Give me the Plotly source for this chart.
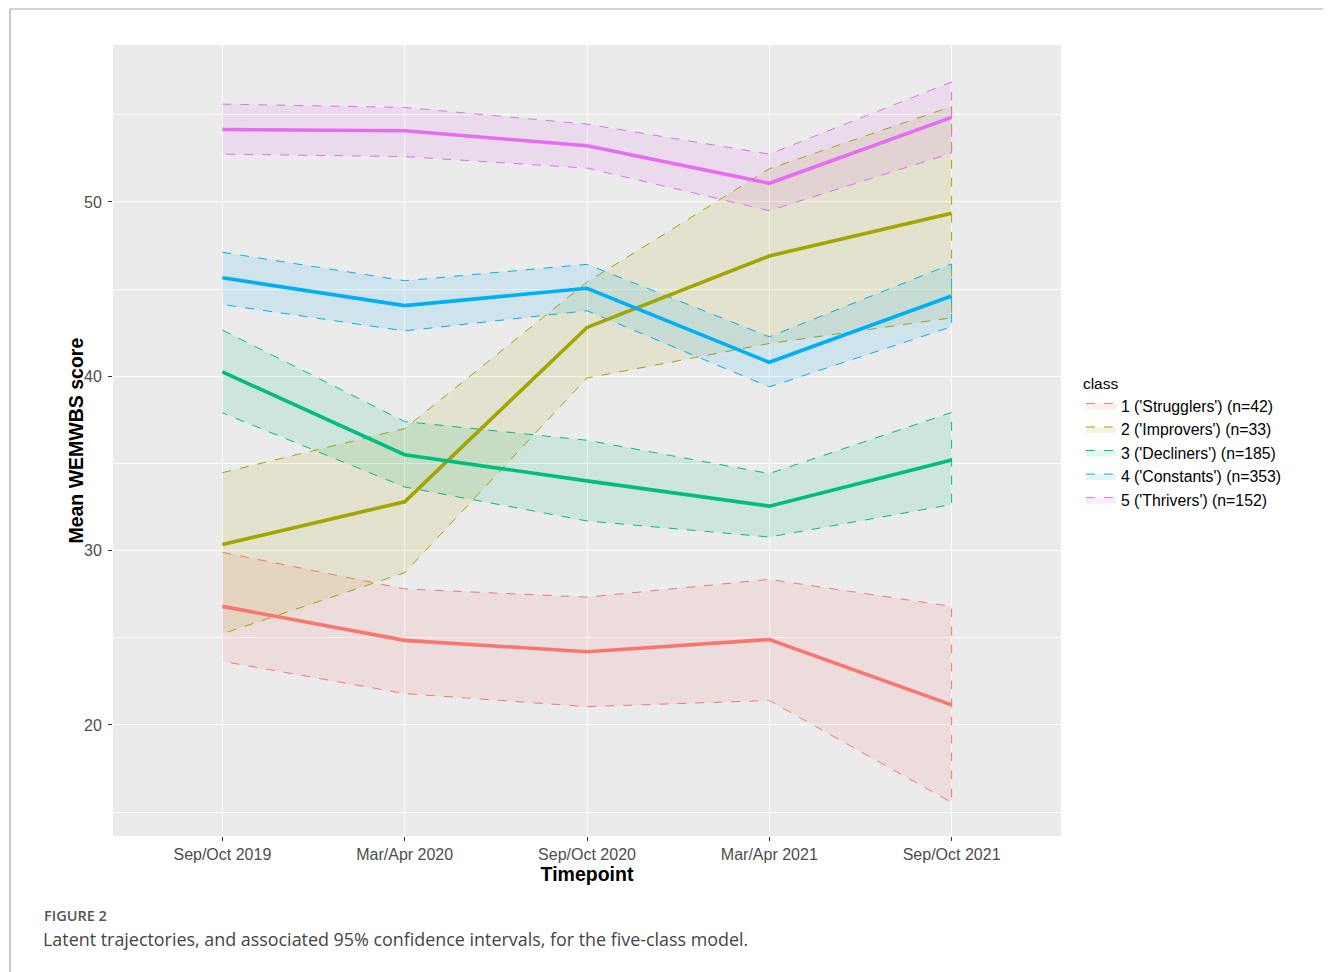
import plotly.graph_objects as go

# timepoints of the survey waves
timepoints = ["Sep/Oct 2019", "Mar/Apr 2020", "Sep/Oct 2020", "Mar/Apr 2021", "Sep/Oct 2021"]

class_labels = [
    "1 ('Strugglers') (n=42)",
    "2 ('Improvers') (n=33)",
    "3 ('Decliners') (n=185)",
    "4 ('Constants') (n=353)",
    "5 ('Thrivers') (n=152)",
]
class_colors = ["#F8766D", "#A3A500", "#00BF7D", "#00B0F6", "#E76BF3"]

# mean WEMWBS score per class
strugglers_mean = [26.8, 24.85, 24.2, 24.9, 21.15]
improvers_mean = [30.35, 32.8, 42.8, 46.9, 49.35]
decliners_mean = [40.25, 35.5, 34.0, 32.55, 35.2]
constants_mean = [45.65, 44.05, 45.05, 40.8, 44.6]
thrivers_mean = [54.15, 54.08, 53.22, 51.07, 54.85]

# 95% confidence bounds
strugglers_lo = [23.65, 21.8, 21.05, 21.4, 15.55]
strugglers_hi = [29.9, 27.8, 27.33, 28.35, 26.8]
improvers_lo = [25.23, 28.73, 39.9, 41.88, 43.35]
improvers_hi = [34.47, 37.0, 45.4, 51.9, 55.47]
decliners_lo = [37.9, 33.65, 31.7, 30.78, 32.64]
decliners_hi = [42.65, 37.4, 36.33, 34.42, 37.92]
constants_lo = [44.12, 42.6, 43.76, 39.39, 42.84]
constants_hi = [47.11, 45.48, 46.42, 42.26, 46.44]
thrivers_lo = [52.74, 52.6, 51.94, 49.5, 52.8]
thrivers_hi = [55.61, 55.42, 54.46, 52.74, 56.88]

means = [strugglers_mean, improvers_mean, decliners_mean, constants_mean, thrivers_mean]
lows = [strugglers_lo, improvers_lo, decliners_lo, constants_lo, thrivers_lo]
highs = [strugglers_hi, improvers_hi, decliners_hi, constants_hi, thrivers_hi]


def rgba(hex_col, alpha):
    h = hex_col.lstrip("#")
    r, g, b = int(h[0:2], 16), int(h[2:4], 16), int(h[4:6], 16)
    return f"rgba({r},{g},{b},{alpha})"


fig = go.Figure()

# ribbons first (closed polygon with a dashed outline, like geom_ribbon)
for label, col, lo, hi in zip(class_labels, class_colors, lows, highs):
    fig.add_trace(go.Scatter(
        x=timepoints + timepoints[::-1],
        y=hi + lo[::-1],
        fill="toself",
        fillcolor=rgba(col, 0.12),
        line=dict(color=col, width=1, dash="dash"),
        mode="lines",
        name=label,
        legendgroup=label,
        hoverinfo="skip",
    ))

# mean trajectories on top
for label, col, m in zip(class_labels, class_colors, means):
    fig.add_trace(go.Scatter(
        x=timepoints,
        y=m,
        mode="lines",
        line=dict(color=col, width=3.6),
        name=label,
        legendgroup=label,
        showlegend=False,
    ))

axis_font = dict(family="Liberation Sans, Arial", size=16, color="#4d4d4d")

fig.update_xaxes(
    type="category",
    categoryorder="array",
    categoryarray=timepoints,
    range=[-0.6, 4.6],
    showgrid=True,
    gridcolor="white",
    gridwidth=1.3,
    zeroline=False,
    ticks="outside",
    ticklen=4,
    tickcolor="#333333",
    tickfont=axis_font,
    title=dict(text="<b>Timepoint</b>", standoff=3,
               font=dict(family="Liberation Sans, Arial", size=19.5, color="black")),
)
fig.update_yaxes(
    range=[13.63, 59.0],
    tickvals=[20, 30, 40, 50],
    showgrid=True,
    gridcolor="white",
    gridwidth=1.3,
    zeroline=False,
    ticks="outside",
    ticklen=4,
    tickcolor="#333333",
    tickfont=axis_font,
    ticklabelstandoff=3,
    minor=dict(tickvals=[15, 25, 35, 45, 55], showgrid=True, gridcolor="white", gridwidth=0.6, ticks=""),
)

# y title as an annotation so it can sit closer to the tick labels
fig.add_annotation(text="<b>Mean WEMWBS score</b>", xref="paper", yref="paper",
                   x=-0.04, y=0.5, xanchor="center", yanchor="middle", textangle=-90,
                   showarrow=False,
                   font=dict(family="Liberation Sans, Arial", size=19.5, color="black"))

# outer frame of the journal figure
fig.add_shape(type="line", xref="paper", yref="paper",
              x0=-0.1087, x1=1.3, y0=1.0455, y1=1.0455,
              line=dict(color="#a6a6a6", width=1.2))
fig.add_shape(type="line", xref="paper", yref="paper",
              x0=-0.1087, x1=-0.1087, y0=1.0455, y1=-0.2,
              line=dict(color="#a6a6a6", width=1.2))

fig.add_annotation(text="FIGURE 2", xref="paper", yref="paper",
                   x=-0.0745, y=-0.1003, xanchor="left", yanchor="middle", showarrow=False,
                   font=dict(family="Open Sans", size=14.5, color="#555555", weight=600))
fig.add_annotation(text="Latent trajectories, and associated 95% confidence intervals, for the five-class model.",
                   xref="paper", yref="paper",
                   x=-0.0755, y=-0.1296, xanchor="left", yanchor="middle", showarrow=False,
                   font=dict(family="Open Sans", size=17.9, color="#444444"))

# page body adds an 8px offset, so the figure is shrunk by that amount
fig.update_layout(
    width=1323,
    height=964,
    margin=dict(l=105, r=270, t=37, b=136),
    paper_bgcolor="white",
    plot_bgcolor="#ebebeb",
    legend=dict(
        title=dict(text="class", font=dict(family="Liberation Sans, Arial", size=15.5, color="black")),
        font=dict(family="Liberation Sans, Arial", size=15.8, color="black"),
        x=1.021, y=0.591, xanchor="left", yanchor="top",
        tracegroupgap=0, itemwidth=30,
        bgcolor="rgba(0,0,0,0)",
    ),
)

fig.write_html("out.html")
